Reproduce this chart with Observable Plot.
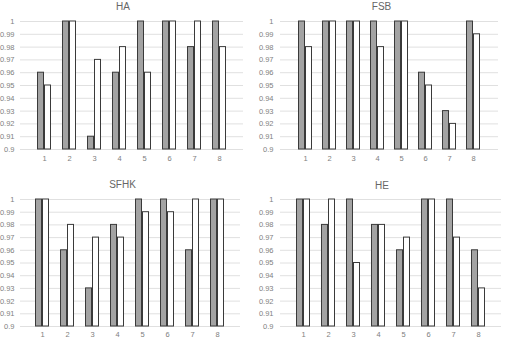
<!DOCTYPE html>
<html>
<head>
<meta charset="utf-8">
<script src="https://cdn.jsdelivr.net/npm/d3@7"></script>
<script src="https://cdn.jsdelivr.net/npm/@observablehq/plot@0.6"></script>
<style>
  html, body { margin: 0; padding: 0; background: #fff; overflow: hidden; }
  #chart { position: relative; width: 506px; height: 340px; }
  .panel { position: absolute; }
  .panel svg { overflow: visible; }
</style>
</head>
<body>
<div id="chart"></div>
<script>
// Categories and tick values
const groups = ["1", "2", "3", "4", "5", "6", "7", "8"];
const yTicks = [0.9, 0.91, 0.92, 0.93, 0.94, 0.95, 0.96, 0.97, 0.98, 0.99, 1];

// Panel names
const panelNames = ["HA", "FSB", "SFHK", "HE"];

// Series values per panel: grey bar (first) and white bar (second)
const haGrey    = [0.96, 1, 0.91, 0.96, 1, 1, 0.98, 1];
const haWhite   = [0.95, 1, 0.97, 0.98, 0.96, 1, 1, 0.98];
const fsbGrey   = [1, 1, 1, 1, 1, 0.96, 0.93, 1];
const fsbWhite  = [0.98, 1, 1, 0.98, 1, 0.95, 0.92, 0.99];
const sfhkGrey  = [1, 0.96, 0.93, 0.98, 1, 1, 0.96, 1];
const sfhkWhite = [1, 0.98, 0.97, 0.97, 0.99, 0.99, 1, 1];
const heGrey    = [1, 0.98, 1, 0.98, 0.96, 1, 1, 0.96];
const heWhite   = [1, 1, 0.95, 0.98, 0.97, 1, 0.97, 0.93];

const series = [
  [haGrey, haWhite],
  [fsbGrey, fsbWhite],
  [sfhkGrey, sfhkWhite],
  [heGrey, heWhite]
];

// Placement of each small chart on the page
const layout = [
  {left: 0,   top: 0,   width: 253, height: 170, ml: 20, mr: 10, mt: 21, mb: 21, tdx: -9, tdy: -15, pad: 6, ypad: 6},
  {left: 253, top: 0,   width: 253, height: 170, ml: 27, mr: 8,  mt: 21, mb: 21, tdx: -8, tdy: -15, pad: 6, ypad: 7},
  {left: 0,   top: 170, width: 253, height: 170, ml: 20, mr: 13, mt: 29, mb: 14, tdx: -8, tdy: -15, pad: 5, ypad: 6},
  {left: 253, top: 170, width: 253, height: 170, ml: 27, mr: 5,  mt: 29, mb: 14, tdx: -9, tdy: -14, pad: 5, ypad: 7}
];

const fontFamily = "'Liberation Sans', Arial, sans-serif";
const chart = document.getElementById("chart");

panelNames.forEach((name, i) => {
  const [grey, white] = series[i];
  const L = layout[i];
  const greyRows = groups.map((g, j) => ({group: g, value: grey[j]}));
  const whiteRows = groups.map((g, j) => ({group: g, value: white[j]}));

  const svg = Plot.plot({
    width: L.width,
    height: L.height,
    marginLeft: L.ml,
    marginRight: L.mr,
    marginTop: L.mt,
    marginBottom: L.mb,
    style: {fontFamily, fontSize: "7.5px", color: "#808080", background: "transparent", overflow: "visible"},
    x: {domain: groups, padding: 0.75, label: null, tickSize: 0, tickPadding: L.pad},
    y: {domain: [0.9, 1], ticks: yTicks, tickFormat: d => String(+d.toFixed(2)), label: null, tickSize: 0, tickPadding: L.ypad},
    marks: [
      Plot.ruleY(yTicks, {stroke: "#e0e0e0", strokeWidth: 1}),
      Plot.barY(greyRows, {x: "group", y1: 0.9, y2: "value", dx: -3.5, fill: "#a3a3a3", stroke: "#3a3a3a", strokeWidth: 1}),
      Plot.barY(whiteRows, {x: "group", y1: 0.9, y2: "value", dx: 3.5, fill: "#ffffff", stroke: "#3a3a3a", strokeWidth: 1}),
      Plot.text([name], {frameAnchor: "top", dx: L.tdx, dy: L.tdy, text: d => d, fontSize: 10, fill: "#666666", lineAnchor: "middle"})
    ]
  });
  const div = document.createElement("div");
  div.className = "panel";
  div.style.left = L.left + "px";
  div.style.top = L.top + "px";
  div.appendChild(svg);
  chart.appendChild(div);
});
</script>
</body>
</html>
